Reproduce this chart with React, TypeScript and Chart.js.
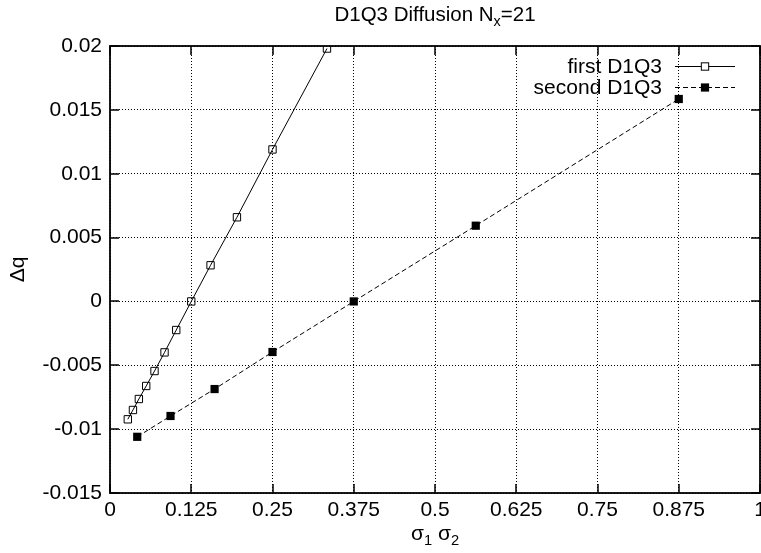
import React, { useEffect, useRef } from 'react';
import { Chart, registerables } from 'chart.js';

Chart.register(...registerables);

const FONT = '"Liberation Sans", Arial, Helvetica, sans-serif';
const FONT_SIZE = 21;

const firstX = [0.0274, 0.0353, 0.0444, 0.0557, 0.0685, 0.0839, 0.1019, 0.125, 0.1547, 0.1953, 0.25, 0.3338];
const firstY = [-0.00923, -0.0085, -0.00764, -0.00662, -0.00545, -0.00399, -0.00224, 0.0, 0.00283, 0.00659, 0.0119, 0.0198];
const secondX = [0.0419, 0.0931, 0.1609, 0.25, 0.375, 0.5627, 0.875];
const secondY = [-0.0106, -0.00897, -0.00686, -0.00396, 0.0, 0.00593, 0.01585];

const xTicks = [0, 0.125, 0.25, 0.375, 0.5, 0.625, 0.75, 0.875, 1];
const xTickLabels = ['0', '0.125', '0.25', '0.375', '0.5', '0.625', '0.75', '0.875', '1'];
const yTicks = [-0.015, -0.01, -0.005, 0, 0.005, 0.01, 0.015, 0.02];
const yTickLabels = ['-0.015', '-0.01', '-0.005', '0', '0.005', '0.01', '0.015', '0.02'];

const seriesLabels = ['first D1Q3', 'second D1Q3'];

function labelFor(values: number[], labels: string[], v: number) {
  let best = 0;
  for (let i = 0; i < values.length; i++) {
    if (Math.abs(values[i] - v) < Math.abs(values[best] - v)) best = i;
  }
  return labels[best];
}

function drawSubText(ctx: CanvasRenderingContext2D, parts: { t: string; sub?: boolean }[], cx: number, baseline: number, size: number) {
  const subSize = size * 0.7;
  let total = 0;
  for (const p of parts) {
    ctx.font = `${p.sub ? subSize : size}px ${FONT}`;
    total += ctx.measureText(p.t).width;
  }
  let x = cx - total / 2;
  ctx.textAlign = 'left';
  ctx.textBaseline = 'alphabetic';
  for (const p of parts) {
    ctx.font = `${p.sub ? subSize : size}px ${FONT}`;
    ctx.fillText(p.t, x, p.sub ? baseline + size * 0.25 : baseline);
    x += ctx.measureText(p.t).width;
  }
}

const noPadding = () => ({ left: 0, right: 0, top: 0, bottom: 0 });

const framePlugin = {
  id: 'gnuFrame',
  afterDatasetsDraw(chart: any) {
    const { ctx, chartArea: a, scales } = chart;
    const xs = scales.x;
    const ys = scales.y;
    ctx.save();
    ctx.strokeStyle = '#000';
    ctx.setLineDash([]);
    ctx.lineWidth = 1.5;
    ctx.beginPath();
    xTicks.forEach((v) => {
      const px = Math.round(xs.getPixelForValue(v));
      ctx.moveTo(px, a.bottom);
      ctx.lineTo(px, a.bottom - 9);
      ctx.moveTo(px, a.top);
      ctx.lineTo(px, a.top + 9);
    });
    yTicks.forEach((v) => {
      const py = Math.round(ys.getPixelForValue(v));
      ctx.moveTo(a.left, py);
      ctx.lineTo(a.left + 9, py);
      ctx.moveTo(a.right, py);
      ctx.lineTo(a.right - 9, py);
    });
    ctx.stroke();
    ctx.lineWidth = 1.8;
    ctx.strokeRect(a.left, a.top, a.right - a.left, a.bottom - a.top);

    // legend
    const ds = chart.data.datasets;
    ctx.font = `${FONT_SIZE}px ${FONT}`;
    ctx.fillStyle = '#000';
    ctx.textAlign = 'right';
    ctx.textBaseline = 'middle';
    const rows = [66, 87];
    ds.forEach((d: any, i: number) => {
      const yy = rows[i];
      ctx.fillText(seriesLabels[i], 662, yy + 1);
      ctx.lineWidth = 1;
      ctx.setLineDash(d.borderDash || []);
      ctx.beginPath();
      ctx.moveTo(675, yy + 0.5);
      ctx.lineTo(735, yy + 0.5);
      ctx.stroke();
      ctx.setLineDash([]);
      const s = d.pointRadius * Math.SQRT1_2;
      if (d.pointBackgroundColor === '#000') {
        ctx.fillRect(705 - s, yy + 0.5 - s, 2 * s, 2 * s);
      } else {
        ctx.fillStyle = '#fff';
        ctx.fillRect(705 - s, yy + 0.5 - s, 2 * s, 2 * s);
        ctx.fillStyle = '#000';
        ctx.strokeRect(705 - s, yy + 0.5 - s, 2 * s, 2 * s);
      }
    });

    // titles
    ctx.fillStyle = '#000';
    const cx = (a.left + a.right) / 2;
    drawSubText(ctx, [{ t: 'D1Q3 Diffusion N' }, { t: 'x', sub: true }, { t: '=21' }], cx, 21, 20.5);
    drawSubText(ctx, [{ t: 'σ' }, { t: '1', sub: true }, { t: ' σ' }, { t: '2', sub: true }], cx, 540, FONT_SIZE);
    ctx.translate(18, (a.top + a.bottom) / 2);
    ctx.rotate(-Math.PI / 2);
    ctx.font = `${FONT_SIZE}px ${FONT}`;
    ctx.textAlign = 'center';
    ctx.textBaseline = 'middle';
    ctx.fillText('Δq', 0, 0);
    ctx.restore();
  },
};

export default function App() {
  const ref = useRef<HTMLCanvasElement | null>(null);
  useEffect(() => {
    document.body.style.margin = '0';
    if (!ref.current) return;
    const chart = new Chart(ref.current, {
      type: 'scatter',
      data: {
        datasets: [
          {
            label: seriesLabels[0],
            data: firstX.map((x, i) => ({ x, y: firstY[i] })),
            showLine: true,
            borderColor: '#000',
            borderWidth: 1,
            pointStyle: 'rect',
            pointRadius: 5.2,
            pointBorderWidth: 1,
            pointBorderColor: '#000',
            pointBackgroundColor: 'rgba(0,0,0,0)',
          },
          {
            label: seriesLabels[1],
            data: secondX.map((x, i) => ({ x, y: secondY[i] })),
            showLine: true,
            borderColor: '#000',
            borderWidth: 1,
            borderDash: [5, 3],
            pointStyle: 'rect',
            pointRadius: 5.8,
            pointBorderWidth: 0,
            pointBorderColor: '#000',
            pointBackgroundColor: '#000',
          },
        ],
      },
      options: {
        responsive: false,
        animation: false,
        events: [],
        layout: { autoPadding: false, padding: { top: 46, right: 1, left: 0, bottom: 0 } },
        plugins: { legend: { display: false }, title: { display: false }, tooltip: { enabled: false } },
        scales: {
          x: {
            type: 'linear',
            min: 0,
            max: 1,
            afterBuildTicks: (scale: any) => {
              scale.ticks = xTicks.map((v) => ({ value: v }));
            },
            afterFit: (scale: any) => {
              scale.height = 60;
              scale.paddingLeft = 0;
              scale.paddingRight = 0;
              scale.getPadding = noPadding;
            },
            ticks: {
              autoSkip: false,
              maxRotation: 0,
              padding: 5,
              color: '#000',
              font: { family: FONT, size: FONT_SIZE },
              callback: (v: any) => labelFor(xTicks, xTickLabels, Number(v)),
            },
            grid: { color: '#000', lineWidth: 1, drawTicks: false },
            border: { display: false, dash: [1, 2] },
          },
          y: {
            type: 'linear',
            min: -0.015,
            max: 0.02,
            afterBuildTicks: (scale: any) => {
              scale.ticks = yTicks.map((v) => ({ value: v }));
            },
            afterFit: (scale: any) => {
              scale.width = 110;
              scale.paddingTop = 0;
              scale.paddingBottom = 0;
              scale.getPadding = noPadding;
            },
            ticks: {
              autoSkip: false,
              padding: 8,
              color: '#000',
              font: { family: FONT, size: FONT_SIZE },
              callback: (v: any) => labelFor(yTicks, yTickLabels, Number(v)),
            },
            grid: { color: '#000', lineWidth: 1, drawTicks: false },
            border: { display: false, dash: [1, 2] },
          },
        },
      },
      plugins: [framePlugin],
    });
    return () => chart.destroy();
  }, []);
  return (
    <div style={{ width: 761, height: 553 }}>
      <canvas ref={ref} width={761} height={553} style={{ display: 'block' }} />
    </div>
  );
}
